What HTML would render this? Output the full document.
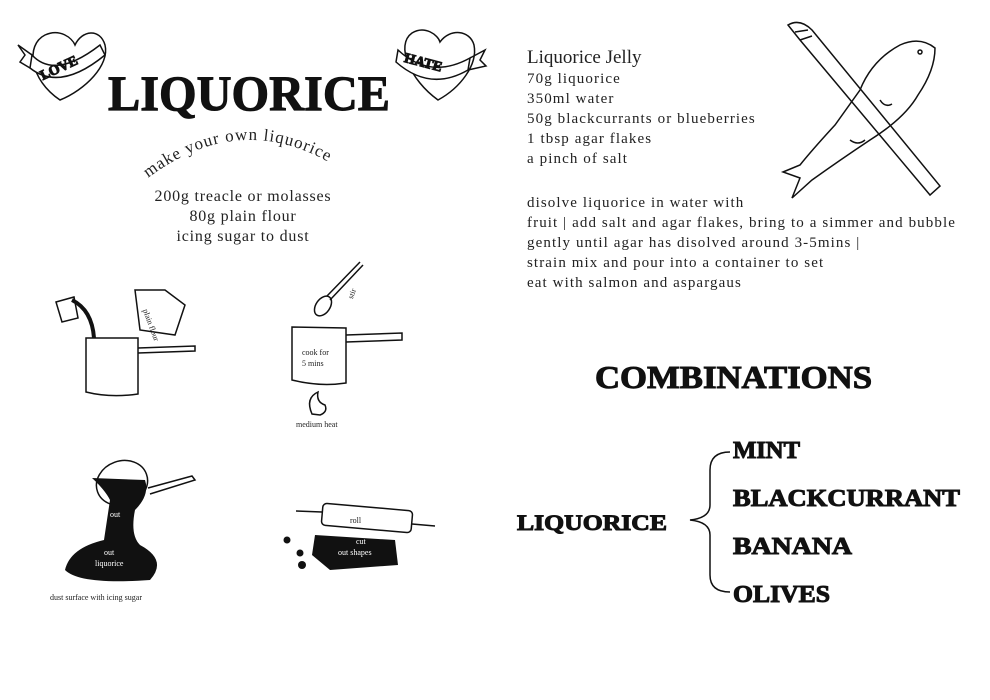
<!DOCTYPE html>
<html><head><meta charset="utf-8"><style>
html,body{margin:0;padding:0;background:#fff}
svg{display:block}
.s{font-family:"Liberation Serif",serif;fill:#222}
.t{font-family:"Liberation Serif",serif;font-weight:bold;fill:#111;stroke:#111;stroke-width:1}
</style></head><body>
<svg width="990" height="700" viewBox="0 0 990 700" xmlns="http://www.w3.org/2000/svg">
<g fill="none" stroke="#111" stroke-width="1.5">
<path d="M60,100 C30,80 25,45 45,35 C60,28 72,38 75,45 C82,30 100,28 105,45 C110,65 85,90 60,100Z"/>
<path d="M32,55 Q55,80 100,45 L105,55 Q60,92 30,68Z" fill="#fff"/>
<path d="M32,55 L18,45 L25,55 L20,62 L30,68"/>
<path d="M438,100 C410,80 395,45 412,33 C425,25 438,35 440,42 C450,28 470,30 474,45 C478,65 460,88 438,100Z"/>
<path d="M398,50 Q430,80 470,58 L468,70 Q430,92 396,62Z" fill="#fff"/>
<path d="M470,58 L485,50 L480,60 L486,66 L468,70"/>
<path d="M86,338 L86,392 Q110,398 138,394 L138,338 Z"/>
<path d="M138,348 L195,346 L195,351 L138,353"/>
<path d="M56,302 L74,297 L78,318 L62,322Z"/>
<path d="M72,300 Q92,310 94,338" stroke-width="4"/>
<path d="M135,290 L165,290 L185,305 L175,335 L140,330Z"/>
<path d="M292,327 L292,380 Q320,387 346,383 L346,328 Z"/>
<path d="M346,335 L402,333 L402,340 L346,342"/>
<ellipse cx="323" cy="306" rx="7" ry="11" transform="rotate(35 323 306)"/>
<path d="M327,296 L360,262 M330,300 L363,265"/>
<path d="M312,414 Q305,398 318,392 Q316,402 325,405 Q328,412 320,415Z"/>
<ellipse cx="122" cy="483" rx="26" ry="22" transform="rotate(-20 122 483)"/>
<path d="M148,488 L192,476 L195,480 L150,494"/>
<rect x="322" y="507" width="90" height="22" rx="4" transform="rotate(5 367 518)"/>
<path d="M296,511 L322,512 M412,524 L435,526"/>
<!-- fish -->
<path d="M935,48 Q920,36 900,45 Q872,60 860,90 L835,125 Q812,150 800,165 L783,172 L800,178 L792,198 L812,180 Q840,160 870,140 Q905,118 918,95 Q935,70 935,48Z"/>
<circle cx="920" cy="52" r="2"/>
<path d="M880,100 Q885,108 892,104 M850,140 Q858,146 865,140"/>
<!-- asparagus -->
<path d="M788,25 L800,40 L930,195 L940,186 L812,30 Q800,18 788,25Z"/>
<path d="M795,32 L808,30 M800,40 L812,36"/>
<path d="M730,452 Q710,452 710,470 L710,505 Q710,518 690,520 Q710,522 710,535 L710,575 Q710,592 730,592"/>
</g>
<g fill="#111">
<path d="M92,478 Q105,490 110,500 L104,540 Q70,548 65,570 Q80,585 150,580 Q168,560 140,545 Q130,535 135,510 Q150,495 145,480 Z"/>
<path d="M315,535 L395,540 L398,565 L330,570 L312,555Z"/>
<circle cx="287" cy="540" r="3.5"/><circle cx="300" cy="553" r="3.5"/><circle cx="302" cy="565" r="4"/>
</g>
<text class="t" x="108" y="110" font-size="50" textLength="282" lengthAdjust="spacingAndGlyphs">LIQUORICE</text>
<text class="t" x="40" y="72" font-size="14" transform="rotate(-25 60 70)">LOVE</text>
<text class="t" x="404" y="66" font-size="14" transform="rotate(15 420 62)">HATE</text>
<path id="arc" d="M148,178 Q245,105 345,172" fill="none"/>
<text class="s" font-size="17" letter-spacing="1"><textPath href="#arc">make your own liquorice</textPath></text>
<g class="s" font-size="16" letter-spacing="0.8" text-anchor="middle">
<text x="243" y="201">200g treacle or molasses</text>
<text x="243" y="221">80g plain flour</text>
<text x="243" y="241">icing sugar to dust</text>
</g>
<g class="s" font-size="8">
<text x="143" y="320" transform="rotate(70 150 315)">plain flour</text>
<text x="302" y="355">cook for</text><text x="302" y="366">5 mins</text>
<text x="344" y="297" transform="rotate(-70 350 292)">stir</text>
<text x="296" y="427">medium heat</text>
<text x="50" y="600">dust surface with icing sugar</text>
<text x="350" y="523">roll</text>
</g>
<g font-family="Liberation Serif,serif" font-size="8" fill="#fff">
<text x="110" y="517">out</text><text x="95" y="566">liquorice</text><text x="104" y="555">out</text>
<text x="356" y="544">cut</text><text x="338" y="555">out shapes</text>
</g>
<g class="s" font-size="15" letter-spacing="1.1" fill="#222">
<text x="527" y="63" font-size="19" letter-spacing="0">Liquorice Jelly</text>
<text x="527" y="83">70g liquorice</text>
<text x="527" y="103">350ml water</text>
<text x="527" y="123">50g blackcurrants or blueberries</text>
<text x="527" y="143">1 tbsp agar flakes</text>
<text x="527" y="163">a pinch of salt</text>
<text x="527" y="207">disolve liquorice in water with</text>
<text x="527" y="227">fruit | add salt and agar flakes, bring to a simmer and bubble</text>
<text x="527" y="247">gently until agar has disolved around 3-5mins |</text>
<text x="527" y="267">strain mix and pour into a container to set</text>
<text x="527" y="287">eat with salmon and aspargaus</text>
</g>
<text class="t" x="595" y="388" font-size="32" textLength="277" lengthAdjust="spacingAndGlyphs">COMBINATIONS</text>
<text class="t" x="517" y="530" font-size="22" textLength="150" lengthAdjust="spacingAndGlyphs">LIQUORICE</text>
<text class="t" x="733" y="458" font-size="24" textLength="67" lengthAdjust="spacingAndGlyphs">MINT</text>
<text class="t" x="733" y="506" font-size="24" textLength="227" lengthAdjust="spacingAndGlyphs">BLACKCURRANT</text>
<text class="t" x="733" y="554" font-size="24" textLength="119" lengthAdjust="spacingAndGlyphs">BANANA</text>
<text class="t" x="733" y="602" font-size="24" textLength="97" lengthAdjust="spacingAndGlyphs">OLIVES</text>
</svg>
</body></html>
